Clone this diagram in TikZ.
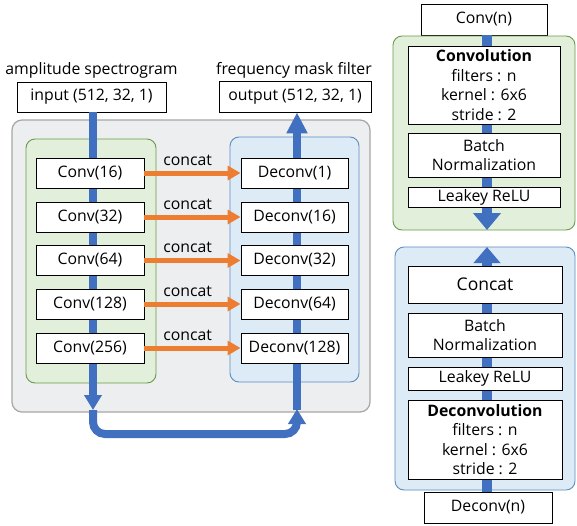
\documentclass[tikz,border=0pt]{standalone}
\usepackage{fontspec}
\setmainfont{Open Sans}
\usetikzlibrary{arrows.meta}
\definecolor{flowblue}{HTML}{4170C0}
\definecolor{skiporange}{HTML}{ED7D31}
\definecolor{panelgray}{HTML}{EDEEF0}
\definecolor{panelgrayline}{HTML}{A6A6A6}
\definecolor{encfill}{HTML}{E2EFDA}
\definecolor{encline}{HTML}{6A9B4A}
\definecolor{decfill}{HTML}{DDEBF7}
\definecolor{decline}{HTML}{5B8DC0}
\tikzset{
  wbox/.style={draw=black, fill=white, line width=0.9pt, inner sep=0pt, align=center,
    font=\fontsize{15.8}{19}\selectfont},
  flow/.style={draw=flowblue, line width=8pt},
  flowtip/.style={-{Triangle[length=15pt,width=17pt]}},
  skip/.style={draw=skiporange, line width=5pt, -{Triangle[length=13pt,width=14pt]}},
  lbl/.style={font=\fontsize{15.8}{17}\selectfont, inner sep=0pt},
  encpanel/.style={fill=encfill, draw=encline, line width=0.9pt, rounded corners=9pt},
  decpanel/.style={fill=decfill, draw=decline, line width=0.9pt, rounded corners=9pt},
}
\begin{document}
\begin{tikzpicture}[x=1pt,y=-1pt]
\useasboundingbox (0,0) rectangle (577,525);
\fill[white] (0,0) rectangle (577,525);

% ---------- network overview ----------
\draw[fill=panelgray, draw=panelgrayline, line width=1.2pt, rounded corners=10pt] (12,120) rectangle (370,412);
\draw[encpanel] (26,139) rectangle (156,383);
\draw[decpanel] (230,137) rectangle (359,382);

\node[wbox, minimum width=149pt, minimum height=30pt] (in) at (91.5,97) {input (512, 32, 1)};
\node[wbox, minimum width=152pt, minimum height=31pt] (out) at (295,96.5) {output (512, 32, 1)};
\node[lbl, anchor=base] (inlbl) at (91.5,74) {amplitude spectrogram};
\node[lbl, anchor=base] (outlbl) at (294,74) {frequency mask filter};

\coordinate (ldown) at (93,410);
\coordinate (rup) at (297,410);

% main data path, drawn beneath the layer boxes
\draw[flow, flowtip] (in.south -| ldown) -- (ldown);
\draw[flow, flowtip, rounded corners=12pt] (ldown) -- (93,434) -- (297,434) -- ([yshift=1pt]rup);
\draw[flow, -{Triangle[length=21pt,width=20pt]}] (rup) -- (out.south -| rup);

\foreach \n/\t/\y in {c1/16/173, c2/32/217, c3/64/260.5, c4/128/304, c5/256/348}
  \node[wbox, minimum width=108pt, minimum height=30pt] (\n) at (90,\y) {Conv(\t)};
\foreach \n/\t/\y in {d1/1/173, d2/16/217, d3/32/260.5, d4/64/304, d5/128/348}
  \node[wbox, minimum width=107pt, minimum height=30pt] (\n) at (294.5,\y) {Deconv(\t)};

\foreach \a/\b in {c1/d1, c2/d2, c3/d3, c4/d4, c5/d5} {
  \draw[skip] (\a.east) -- (\b.west);
  \path (\a.east) -- (\b.west) node[lbl, pos=0.45, anchor=base, yshift=8pt] {concat};
}

% ---------- encoder block detail ----------
\node[wbox, minimum width=126pt, minimum height=31pt] (convn) at (484,19.5) {Conv(n)};
\draw[encpanel] (393,36) rectangle (575,230);
\coordinate (encend) at (487,230);
\draw[draw=flowblue, line width=10pt, -{Triangle[length=17pt,width=27pt]}] (convn.south -| encend) -- (encend);
\node[wbox, minimum width=152pt, minimum height=78pt, font=\fontsize{15.8}{19.5}\selectfont] (convop) at (484,85)
  {\textbf{Convolution}\\filters : n\\kernel : 6x6\\stride : 2};
\node[wbox, minimum width=152pt, minimum height=44pt, font=\fontsize{15.8}{19}\selectfont] (bn1) at (484,155) {Batch\\Normalization};
\node[wbox, minimum width=152pt, minimum height=20pt] (act1) at (484,197) {Leakey ReLU};

% ---------- decoder block detail ----------
\draw[decpanel] (395,247) rectangle (575,490);
\node[wbox, minimum width=128pt, minimum height=31pt] (deconvn) at (488,507.5) {Deconv(n)};
\coordinate (decend) at (487,247);
\draw[draw=flowblue, line width=10pt, -{Triangle[length=16pt,width=26pt]}] (deconvn.north -| decend) -- (decend);
\node[wbox, minimum width=154pt, minimum height=37pt, font=\fontsize{17.5}{20}\selectfont] (cat) at (485,284.5) {Concat};
\node[wbox, minimum width=154pt, minimum height=44pt, font=\fontsize{15.8}{19}\selectfont] (bn2) at (485,335) {Batch\\Normalization};
\node[wbox, minimum width=154pt, minimum height=23pt] (act2) at (485,378.5) {Leakey ReLU};
\node[wbox, minimum width=154pt, minimum height=79pt, font=\fontsize{15.8}{19.5}\selectfont] (deconvop) at (485,439.5)
  {\textbf{Deconvolution}\\filters : n\\kernel : 6x6\\stride : 2};
\end{tikzpicture}
\end{document}
